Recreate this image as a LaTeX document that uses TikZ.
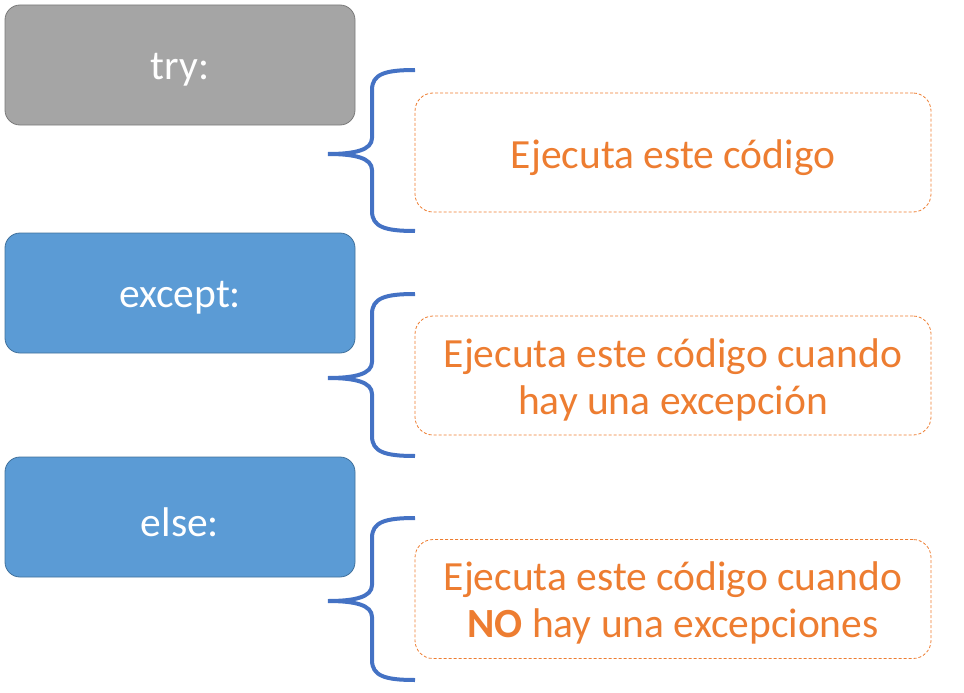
\documentclass[tikz,border=0pt]{standalone}
\usepackage{fontspec}
\setmainfont{Carlito}
\definecolor{trygray}{HTML}{A5A5A5}
\definecolor{trygrayline}{HTML}{7A7A7A}
\definecolor{keyblue}{HTML}{5B9BD5}
\definecolor{keyblueline}{HTML}{41719C}
\definecolor{braceblue}{HTML}{4472C4}
\definecolor{descorange}{HTML}{ED7D31}
\begin{document}
\begin{tikzpicture}[x=1pt,y=-1pt,
  keybox/.style={rounded corners=15pt, minimum width=350pt, minimum height=120pt,
    draw=keyblueline, fill=keyblue, line width=0.8pt, inner sep=0pt},
  graybox/.style={keybox, fill=trygray, draw=trygrayline},
  keytext/.style={text=white, font=\fontsize{41.5}{47}\selectfont, inner sep=0pt},
  descbox/.style={rounded corners=18pt, minimum width=516pt, minimum height=119pt,
    draw=descorange, dash pattern=on 3pt off 2pt, line width=0.8pt, inner sep=0pt},
  desctext/.style={text=descorange, font=\fontsize{41.5}{47}\selectfont, align=center, inner sep=0pt},
  bracepath/.style={draw=braceblue, line width=4pt}
]
\useasboundingbox (0,0) rectangle (964,693);
\node[graybox] (try) at (180,65) {};
\node[keybox] (except) at (180,293) {};
\node[keybox] (else) at (180,517) {};
\node[keytext] (ttry) at ([yshift=-5pt]try.center) {try:};
\node[keytext] (texcept) at ([yshift=-5pt]except.center) {except:};
\node[keytext] (telse) at ([yshift=-5pt]else.center) {else:};
\node[descbox] (d1) at (673,152.5) {};
\node[descbox] (d2) at (673,375.5) {};
\node[descbox] (d3) at (673,599) {};
\node[desctext] (t1) at ([yshift=-5pt]d1.center) {Ejecuta este código};
\node[desctext] (t2) at ([yshift=-4pt]d2.center) {Ejecuta este código cuando\\hay una excepción};
\node[desctext] (t3) at ([yshift=-4pt]d3.center) {Ejecuta este código cuando\\\textbf{NO} hay una excepciones};
\foreach \t/\m/\b in {70/154/231, 294/378/456, 518/601/680}{
  \path[bracepath] (415,\t) .. controls (385,\t) and (372,\t+4) .. (372,\t+20)
    -- (372,\m-16) .. controls (372,\m-4) and (355,\m) .. (328,\m)
    .. controls (355,\m) and (372,\m+4) .. (372,\m+16)
    -- (372,\b-20) .. controls (372,\b-4) and (385,\b) .. (415,\b);
}
\end{tikzpicture}
\end{document}
